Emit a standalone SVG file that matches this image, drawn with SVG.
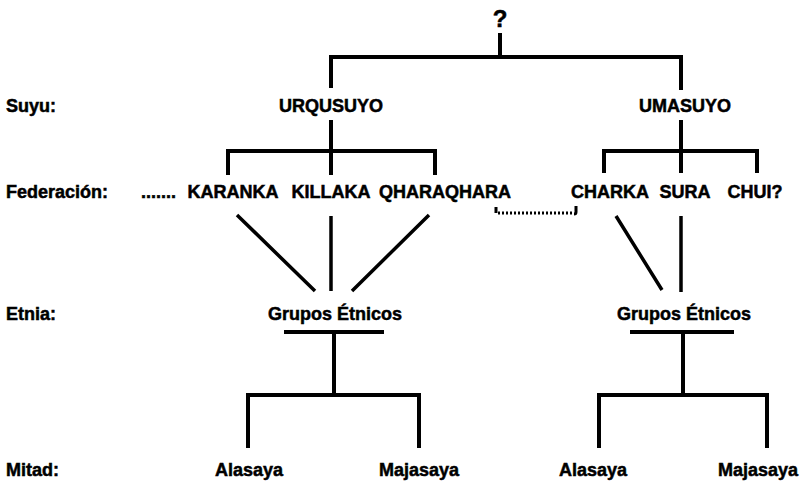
<svg xmlns="http://www.w3.org/2000/svg" width="805" height="483" viewBox="0 0 805 483">
<style>
text{font-family:"Liberation Sans",Arial,sans-serif;font-weight:bold;font-size:18px;fill:#000;stroke:#000;stroke-width:0.5}
.c{text-anchor:middle}
.ln{stroke:#000;stroke-width:4;fill:none;stroke-linecap:butt}
.dg{stroke:#000;stroke-width:3.5;fill:none}
.dot{stroke:#000;stroke-width:3;fill:none;stroke-dasharray:2 2}
</style>
<rect width="805" height="483" fill="#fff"/>
<g id="labels">
<text x="6" y="112">Suyu:</text>
<text x="6" y="198">Federación:</text>
<text x="6" y="320">Etnia:</text>
<text x="6" y="476">Mitad:</text>
</g>
<g id="root"><text class="c" x="500" y="27" style="font-size:24px">?</text></g>
<g id="urqusuyo"><text class="c" x="331" y="112">URQUSUYO</text></g>
<g id="umasuyo"><text class="c" x="685" y="112">UMASUYO</text></g>
<g id="ellipsis"><text x="141" y="198">.......</text></g>
<g id="karanka"><text class="c" x="233" y="198">KARANKA</text></g>
<g id="killaka"><text class="c" x="331" y="198">KILLAKA</text></g>
<g id="qharaqhara"><text class="c" x="445" y="198">QHARAQHARA</text></g>
<g id="charka"><text class="c" x="610" y="198">CHARKA</text></g>
<g id="sura"><text class="c" x="685" y="198">SURA</text></g>
<g id="chui"><text class="c" x="755" y="198">CHUI?</text></g>
<g id="grupos-left"><text class="c" x="335" y="320">Grupos Étnicos</text></g>
<g id="grupos-right"><text class="c" x="684" y="320">Grupos Étnicos</text></g>
<g id="alasaya-left"><text class="c" x="249" y="476">Alasaya</text></g>
<g id="majasaya-left"><text class="c" x="419" y="476">Majasaya</text></g>
<g id="alasaya-right"><text class="c" x="593" y="476">Alasaya</text></g>
<g id="majasaya-right"><text class="c" x="758" y="476">Majasaya</text></g>
<g id="connectors">
<path class="ln" d="M500 33V57M329 57H683M331 55V88M681 55V90"/>
<path class="ln" d="M331 120V151M226 151H437M228 149V175M331 149V175M435 149V175"/>
<path class="ln" d="M681 120V151M602 151H759M604 149V173M681 149V173M757 149V173"/>
<path class="dg" d="M237 215L315 291M331 216V291M429 215L352 291"/>
<path class="dg" d="M616 216L662 290M681 216V292"/>
<path class="ln" d="M496 207V213M576 206V212Q576 214 574 214" style="stroke-width:3"/>
<path class="dot" d="M498 213H574"/>
<path class="ln" d="M284 332H384M334 332V395M246 395H421M248 393V448M419 393V448"/>
<path class="ln" d="M630 332H734M683 332V395M597 395H769M599 393V448M767 393V448"/>
</g>
</svg>
